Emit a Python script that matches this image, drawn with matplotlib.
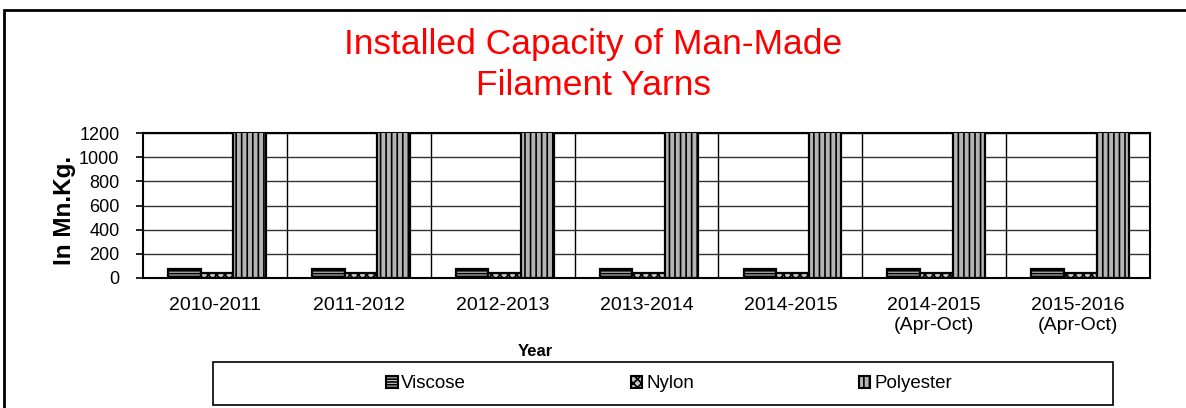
import matplotlib
matplotlib.use('Agg')
import matplotlib.pyplot as plt
from matplotlib.patches import Rectangle, Patch

plt.rcParams['font.family'] = ['Liberation Sans', 'DejaVu Sans']
plt.rcParams['hatch.linewidth'] = 1.2

years = ['2010-2011', '2011-2012', '2012-2013', '2013-2014', '2014-2015',
         '2014-2015\n(Apr-Oct)', '2015-2016\n(Apr-Oct)']
viscose = [76, 76, 76, 76, 76, 76, 76]
nylon = [38, 38, 38, 38, 38, 38, 38]
polyester = [2700, 2750, 2800, 2850, 2900, 2900, 2950]

series = [('Viscose', viscose, '------', '#c8c8c8'),
          ('Nylon', nylon, 'xxxx', '#c8c8c8'),
          ('Polyester', polyester, '|||', '#b4b4b4')]

fig = plt.figure(figsize=(11.86, 4.08), dpi=100)
ax = fig.add_axes([143 / 1186, 1 - 278 / 408, (1150 - 143) / 1186, 145 / 408])

w = 0.227
x = list(range(len(years)))
for j, (name, vals, hatch, fc) in enumerate(series):
    ax.bar([i + (j - 1) * w + 0.015 for i in x], vals, width=w, facecolor=fc,
           edgecolor='black', hatch=hatch, linewidth=1.6, zorder=3)

ax.set_xlim(-0.5, len(years) - 0.5)
ax.set_ylim(0, 1200)
ax.set_yticks(range(0, 1201, 200))
ax.set_xticks(x)
ax.set_xticklabels(years, fontsize=14)
ax.tick_params(axis='x', length=0, pad=14)
ax.tick_params(axis='y', labelsize=13, length=5, width=1.2, direction='out', pad=12)
ax.grid(axis='y', color='#333333', linewidth=1.0, zorder=0)
for b in range(1, len(years)):
    ax.axvline(b - 0.5, color='black', linewidth=1.0, zorder=0)
for s in ax.spines.values():
    s.set_linewidth(1.5)

fig.text(0.5, 1 - 65 / 408, 'Installed Capacity of Man-Made\nFilament Yarns',
         color='red', fontsize=25.5, ha='center', va='center', linespacing=1.33)
fig.text(65 / 1186, 1 - 210 / 408, 'In Mn.Kg.', rotation=90, fontsize=17.5,
         fontweight='bold', ha='center', va='center')
fig.text(535 / 1186, 1 - 352 / 408, 'Year', fontsize=12, fontweight='bold',
         ha='center', va='center')

# legend box and outer frame
fig.patches.append(Rectangle((213 / 1186, 1 - 405 / 408), 900 / 1186, 43 / 408,
                             transform=fig.transFigure, facecolor='white',
                             edgecolor='black', linewidth=1.2))
fig.patches.append(Rectangle((4 / 1186, -0.2), 1.2, 1.2 - 10 / 408,
                             transform=fig.transFigure, fill=False,
                             edgecolor='black', linewidth=2))

handles = [Patch(facecolor=fc, edgecolor='black', hatch=h, linewidth=1.5, label=n)
           for n, _, h, fc in series]
fig.legend(handles=handles, loc='center', bbox_to_anchor=(669 / 1186, 1 - 384 / 408),
           ncol=3, frameon=False, fontsize=13.5, handlelength=0.6, handleheight=0.6,
           handletextpad=0.2, columnspacing=8.8)

fig.savefig('out.png', dpi=100)
